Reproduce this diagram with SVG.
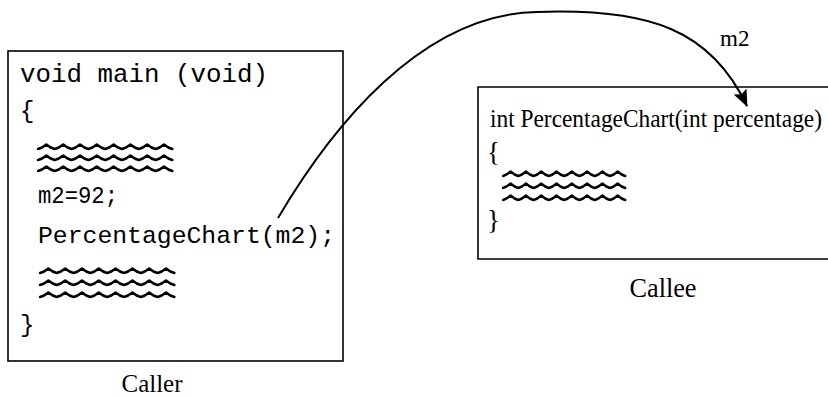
<svg xmlns="http://www.w3.org/2000/svg" xmlns:xlink="http://www.w3.org/1999/xlink" width="828" height="396" viewBox="0 0 828 396">
<style>
.box{fill:none;stroke:#000;stroke-width:1.6}
.mono{font-family:"Liberation Mono","DejaVu Sans Mono",monospace;fill:#000}
.serif{font-family:"Liberation Serif","DejaVu Serif",serif;fill:#000}
.sq{fill:none;stroke:#000;stroke-width:2.4;stroke-linejoin:round;stroke-linecap:round}
.conn{fill:none;stroke:#000;stroke-width:2}
</style>
<defs>
<path id="wave" class="sq" d="M0,0 q4,-0.8 8.4,-4.5 q4,3.5 8.4,4.5 q4,-0.8 8.4,-4.5 q4,3.5 8.4,4.5 q4,-0.8 8.4,-4.5 q4,3.5 8.4,4.5 q4,-0.8 8.4,-4.5 q4,3.5 8.4,4.5 q4,-0.8 8.4,-4.5 q4,3.5 8.4,4.5 q4,-0.8 8.4,-4.5 q4,3.5 8.4,4.5 q4,-0.8 8.4,-4.5 q4,3.5 8.4,4.5 q4,-0.8 8.4,-4.5 q4,3.5 8.4,4.5"/>
<marker id="arr" markerWidth="17" markerHeight="14" refX="16" refY="7" orient="auto" markerUnits="userSpaceOnUse">
<path d="M0,0 L17,7 L0,14 L3,7 Z" fill="#000"/>
</marker>
</defs>
<g id="caller">
<rect class="box" x="8" y="51" width="335" height="310"/>
<text class="mono" x="20" y="82" font-size="25" textLength="248" lengthAdjust="spacingAndGlyphs">void main (void)</text>
<text class="mono" x="20" y="118" font-size="24">{</text>
<use xlink:href="#wave" x="38" y="149"/>
<use xlink:href="#wave" x="38" y="160"/>
<use xlink:href="#wave" x="38" y="171"/>
<text class="mono" x="38" y="203" font-size="23" textLength="80" lengthAdjust="spacingAndGlyphs">m2=92;</text>
<text class="mono" x="38" y="243" font-size="24" textLength="297" lengthAdjust="spacingAndGlyphs">PercentageChart(m2);</text>
<use xlink:href="#wave" x="40" y="273"/>
<use xlink:href="#wave" x="40" y="285"/>
<use xlink:href="#wave" x="40" y="297"/>
<text class="mono" x="20" y="332" font-size="24">}</text>
<text class="serif" x="152" y="392" font-size="25" text-anchor="middle" textLength="61" lengthAdjust="spacingAndGlyphs">Caller</text>
</g>
<g id="callee">
<path class="box" d="M830,87 H478 V259 H830"/>
<text class="serif" x="490" y="127" font-size="25" textLength="332" lengthAdjust="spacingAndGlyphs">int PercentageChart(int percentage)</text>
<text class="serif" x="487" y="161" font-size="27">{</text>
<use xlink:href="#wave" transform="translate(503 176) scale(0.91 1)"/>
<use xlink:href="#wave" transform="translate(503 188) scale(0.91 1)"/>
<use xlink:href="#wave" transform="translate(503 200) scale(0.91 1)"/>
<text class="serif" x="487" y="229" font-size="27">}</text>
<text class="serif" x="663" y="297" font-size="27" text-anchor="middle" textLength="67" lengthAdjust="spacingAndGlyphs">Callee</text>
</g>
<g id="connectors">
<path class="conn" d="M278,218 C330,130 420,14 537,12 C650,8 711,30 747,106" marker-end="url(#arr)"/>
<text class="serif" x="720" y="46" font-size="23">m2</text>
</g>
</svg>
